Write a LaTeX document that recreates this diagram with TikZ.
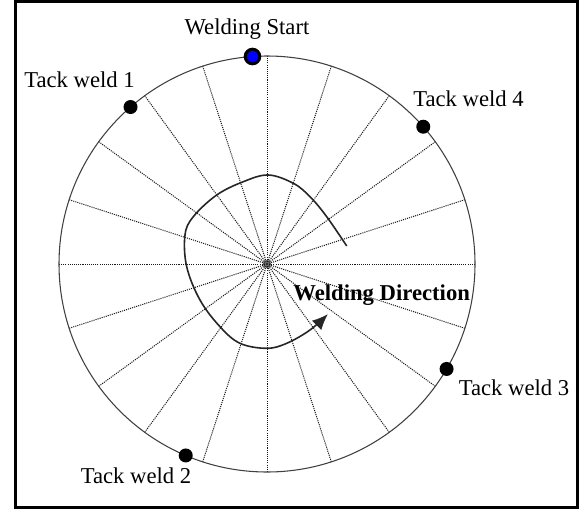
\documentclass[tikz,border=0pt]{standalone}
\usepackage{fontspec}
\setmainfont{Liberation Serif}
\usetikzlibrary{arrows.meta,calc}
\begin{document}
\begin{tikzpicture}[x=0.75pt,y=-0.75pt,
  spoke/.style={draw=black!90, line width=0.75pt, dash pattern=on 0.8pt off 0.8pt},
  rim/.style={draw=black!75, line width=0.8pt},
  tack/.style={circle, fill=black, inner sep=0pt, minimum size=10.5pt},
  startdot/.style={circle, fill=blue, draw=black, line width=2.2pt, inner sep=0pt, minimum size=11pt},
  lbl/.style={font=\fontsize{17}{20}\selectfont, inner sep=0pt, anchor=base},
  wpath/.style={draw=black!85, line width=1.2pt}]
\useasboundingbox (0,0) rectangle (584,510);
\draw[line width=2.25pt] (15,1.5) rectangle (577,507.5);
\coordinate (C) at (267,264);
\foreach \a in {0,18,...,342} {
  \draw[spoke] (C) -- ($(C)+(-\a:208)$);
}
\draw[rim] (C) circle[radius=208];
\node[draw=black!70, line width=0.5pt, circle, inner sep=0pt, minimum size=2.5pt] (c1) at (C) {};
\node[draw=black!70, line width=0.5pt, circle, inner sep=0pt, minimum size=5.5pt] (c2) at (C) {};
% dots
\node[startdot] (ws) at ($(C)+(-94:208)$) {};
\node[tack] (t1) at ($(C)+(-131:208)$) {};
\node[tack] (t2) at ($(C)+(113:208)$) {};
\node[tack] (t3) at ($(C)+(30.3:208)$) {};
\node[tack] (t4) at ($(C)+(-41.3:208)$) {};
% labels
\node[lbl] (lws) at (247,35) {Welding Start};
\node[lbl] (lt1) at (79.5,87.3) {Tack weld 1};
\node[lbl] (lt4) at (468.5,106.7) {Tack weld 4};
\node[lbl] (lt3) at (514,395) {Tack weld 3};
\node[lbl] (lt2) at (136,483) {Tack weld 2};
\node[lbl, font=\fontsize{17}{20}\selectfont\bfseries] (ldir) at (381.7,300) {Welding Direction};
% welding path
\draw[wpath, -{Latex[length=12pt,width=10pt]}] plot[smooth, tension=0.6] coordinates {
  (346.7,246) (326.7,216.7) (310,196.7) (293.3,183.3) (268.3,175) (243.3,181.7)
  (216.7,195) (193.3,216.7) (185,235) (186.7,266.7) (200,300) (220,326.7)
  (240,343.3) (266.7,348.3) (286.7,343.3) (310,330) (328,314)};
\end{tikzpicture}
\end{document}
